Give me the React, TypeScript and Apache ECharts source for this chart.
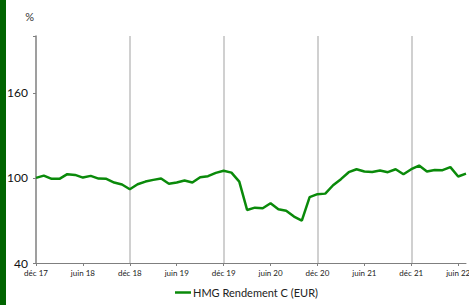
import React, { useEffect, useRef } from "react";
import * as echarts from "echarts";

const MONTHS = ["janv", "févr", "mars", "avr", "mai", "juin", "juil", "août", "sept", "oct", "nov", "déc"];

// Monthly categories: déc 17 .. juil 22
const categories: string[] = (() => {
  const out: string[] = ["déc 17"];
  for (let y = 18; y <= 22; y++) {
    const last = y === 22 ? 7 : 12;
    for (let m = 0; m < last; m++) out.push(`${MONTHS[m]} ${y}`);
  }
  return out;
})();

const values2017 = [100];
const values2018 = [101.6, 99.3, 99.3, 102.6, 102.1, 100.2, 101.4, 99.5, 99.3, 96.7, 95.3, 92];
const values2019 = [95.5, 97.4, 98.6, 99.5, 95.8, 96.7, 98.1, 96.7, 100.5, 101.2, 103.5, 105.0];
const values2020 = [103.7, 97.4, 77.4, 79, 78.6, 82.1, 77.9, 76.9, 72.7, 69.9, 86.4, 88.5];
const values2021 = [88.9, 94.8, 99.1, 104, 106.1, 104.5, 104.2, 105.2, 104, 106.1, 102.6, 106.1];
const values2022 = [108.7, 104.5, 105.6, 105.4, 107.6, 101, 103];

const seriesValues = [...values2017, ...values2018, ...values2019, ...values2020, ...values2021, ...values2022];

const yTicks = [40, 100, 160];
const seriesName = "HMG Rendement C (EUR)";

const FONT = "Lato, 'Open Sans', sans-serif";

export default function App() {
  const ref = useRef<HTMLDivElement>(null);
  useEffect(() => {
    if (!ref.current) return;
    const chart = echarts.init(ref.current, undefined, { renderer: "svg" });
    chart.setOption({
      animation: false,
      backgroundColor: "#ffffff",
      textStyle: { fontFamily: FONT },
      graphic: [
        { type: "rect", left: 0, top: 0, shape: { width: 6, height: 305 }, style: { fill: "#006400" } },
      ],
      grid: { left: 36, right: 3, top: 36, bottom: 42, containLabel: false, outerBoundsMode: "none" },
      legend: {
        left: 170,
        bottom: 2,
        icon: "rect",
        itemWidth: 16,
        itemHeight: 2.5,
        itemGap: 10,
        textStyle: { fontFamily: FONT, fontSize: 11, color: "#222", padding: [0, 0, 0, -3] },
        data: [seriesName],
      },
      xAxis: {
        type: "category",
        data: categories,
        boundaryGap: false,
        axisLine: { lineStyle: { color: "#7f7f7f", width: 1 } },
        axisTick: {
          show: true,
          length: 3,
          interval: (i: number) => i % 6 === 0,
          lineStyle: { color: "#7f7f7f" },
        },
        axisLabel: {
          interval: (i: number) => i % 6 === 0,
          fontSize: 8,
          color: "#222",
          fontFamily: FONT,
          margin: 6,
          hideOverlap: false,
        },
        splitLine: {
          show: true,
          interval: (i: number) => i % 12 === 0 && i > 0,
          lineStyle: { color: "#c0c0c0", width: 1.5 },
        },
      },
      yAxis: {
        type: "value",
        min: 40,
        max: 200,
        interval: 60,
        name: "%",
        nameLocation: "end",
        nameGap: 14,
        nameTextStyle: { fontSize: 11, color: "#333", align: "right", padding: [0, 2, 0, 0], fontFamily: FONT },
        axisLine: { show: true, lineStyle: { color: "#7f7f7f", width: 1.5 } },
        axisTick: { show: true, length: 3, lineStyle: { color: "#7f7f7f" } },
        axisLabel: {
          fontSize: 12,
          color: "#111",
          margin: 8,
          fontFamily: FONT,
          formatter: (v: number) => (yTicks.includes(v) ? String(v) : ""),
        },
        splitLine: { show: false },
      },
      series: [
        {
          name: seriesName,
          type: "line",
          data: seriesValues,
          symbol: "none",
          lineStyle: { color: "#0a8a0a", width: 2.5 },
          itemStyle: { color: "#0a8a0a" },
        },
      ],
    });
    return () => chart.dispose();
  }, []);
  return <div ref={ref} style={{ position: "fixed", left: 0, top: 0, width: 469, height: 305 }} />;
}
